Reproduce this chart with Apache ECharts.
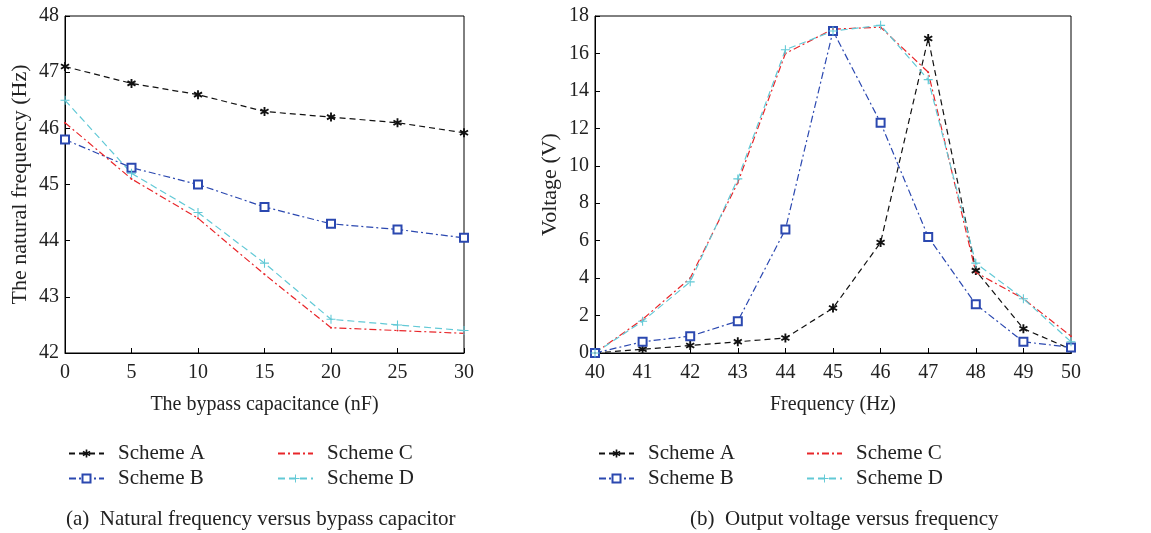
<!DOCTYPE html>
<html>
<head>
<meta charset="utf-8">
<script src="https://cdn.jsdelivr.net/npm/echarts@6/dist/echarts.min.js"></script>
<style>
  html, body { margin: 0; padding: 0; background: #fff; }
  #chart { width: 1151px; height: 533px; }
</style>
</head>
<body>
<div id="chart"></div>
<script>
// (a) natural frequency vs bypass capacitance
var capX = [0, 5, 10, 15, 20, 25, 30];
var freqA = [47.1, 46.8, 46.6, 46.3, 46.2, 46.1, 45.92];
var freqB = [45.8, 45.3, 45.0, 44.6, 44.3, 44.2, 44.05];
var freqC = [46.1, 45.1, 44.4, 43.4, 42.45, 42.4, 42.35];
var freqD = [46.5, 45.2, 44.5, 43.6, 42.6, 42.5, 42.4];

// (b) output voltage vs frequency
var hzX = [40, 41, 42, 43, 44, 45, 46, 47, 48, 49, 50];
var voltA = [0, 0.2, 0.4, 0.6, 0.8, 2.4, 5.9, 16.8, 4.4, 1.3, 0.2];
var voltB = [0, 0.6, 0.9, 1.7, 6.6, 17.2, 12.3, 6.2, 2.6, 0.6, 0.3];
var voltC = [0, 1.8, 4.0, 9.1, 16.0, 17.3, 17.4, 15.0, 4.3, 2.9, 0.9];
var voltD = [0, 1.7, 3.8, 9.3, 16.2, 17.2, 17.5, 14.6, 4.8, 2.9, 0.6];

var schemeNames = ['Scheme A', 'Scheme B', 'Scheme C', 'Scheme D'];

function pairs(xs, ys) {
    var out = [];
    for (var i = 0; i < xs.length; i++) {
        out.push([xs[i], ys[i]]);
    }
    return out;
}

var FONT = '"Liberation Serif", "DejaVu Serif", serif';
var asterisk = 'path://M-0.2,-1L0.2,-1L0.2,1L-0.2,1Z' +
    'M0.766,-0.673L0.966,-0.327L-0.766,0.673L-0.966,0.327Z' +
    'M0.966,0.327L0.766,0.673L-0.966,-0.327L-0.766,-0.673Z';
var plus = 'path://M-0.12,-1L0.12,-1L0.12,-0.12L1,-0.12L1,0.12L0.12,0.12L0.12,1L-0.12,1L-0.12,0.12L-1,0.12L-1,-0.12L-0.12,-0.12Z';

var styles = [
    { color: '#111111', dash: [6, 4], symbol: asterisk, size: 9 },
    { color: '#2b48b0', dash: [7, 3, 2, 3], symbol: 'emptyRect', size: 8 },
    { color: '#e8262a', dash: [7, 3, 2, 3], symbol: 'circle', size: 2 },
    { color: '#62c9d6', dash: [7, 4], symbol: plus, size: 9 }
];

function makeSeries(k, data, axisIdx) {
    var s = styles[k];
    return {
        name: schemeNames[k],
        type: 'line',
        xAxisIndex: axisIdx,
        yAxisIndex: axisIdx,
        data: data,
        symbol: s.symbol,
        symbolSize: s.size,
        animation: false,
        itemStyle: { color: s.color, borderColor: s.color, borderWidth: k === 1 ? 1.2 : 0 },
        lineStyle: { color: s.color, width: 1.2, type: s.dash }
    };
}

function valueAxis(gridIdx, min, max, step, name, gap, nameSize, labelMargin) {
    return {
        type: 'value',
        gridIndex: gridIdx,
        min: min,
        max: max,
        interval: step,
        name: name,
        nameLocation: 'middle',
        nameGap: gap,
        nameTextStyle: { fontFamily: FONT, fontSize: nameSize, color: '#222' },
        axisLine: { show: true, onZero: false, lineStyle: { color: '#000', width: 1 } },
        axisTick: { show: true, inside: true, length: 5, lineStyle: { color: '#000' } },
        axisLabel: { fontFamily: FONT, fontSize: 20, color: '#222', margin: labelMargin },
        splitLine: { show: false }
    };
}

function legendBox(left, names) {
    return {
        left: left,
        top: 438,
        orient: 'vertical',
        itemWidth: 35,
        itemHeight: 10,
        itemGap: 4,
        data: names,
        selectedMode: false,
        textStyle: { fontFamily: FONT, fontSize: 21, lineHeight: 21, color: '#222', padding: [0, 0, 0, 9] }
    };
}

// Scheme C has no visible marker in the key, just the dash-dot line
var legendC = [{ name: 'Scheme C', itemStyle: { opacity: 0 } }, 'Scheme D'];

var chart = echarts.init(document.getElementById('chart'));
var option = {
    backgroundColor: '#fff',
    animation: false,
    title: [
        { text: '(a)  Natural frequency versus bypass capacitor', left: 61, top: 504,
          textStyle: { fontFamily: FONT, fontSize: 21, fontWeight: 'normal', color: '#222' } },
        { text: '(b)  Output voltage versus frequency', left: 685, top: 504,
          textStyle: { fontFamily: FONT, fontSize: 21, fontWeight: 'normal', color: '#222' } }
    ],
    legend: [
        legendBox(63, ['Scheme A', 'Scheme B']),
        legendBox(272, legendC),
        legendBox(593, ['Scheme A', 'Scheme B']),
        legendBox(801, legendC)
    ],
    grid: [
        { left: 65, right: 687, top: 16, bottom: 180, show: true, borderColor: '#000', borderWidth: 1 },
        { left: 595, right: 80, top: 16, bottom: 180, show: true, borderColor: '#000', borderWidth: 1 }
    ],
    xAxis: [
        valueAxis(0, 0, 30, 5, 'The bypass capacitance (nF)', 42, 20, 10),
        valueAxis(1, 40, 50, 1, 'Frequency (Hz)', 42, 20, 10)
    ],
    yAxis: [
        valueAxis(0, 42, 48, 1, 'The natural frequency (Hz)', 34, 22, 6),
        valueAxis(1, 0, 18, 2, 'Voltage (V)', 34, 22, 6)
    ],
    series: [
        makeSeries(0, pairs(capX, freqA), 0),
        makeSeries(1, pairs(capX, freqB), 0),
        makeSeries(2, pairs(capX, freqC), 0),
        makeSeries(3, pairs(capX, freqD), 0),
        makeSeries(0, pairs(hzX, voltA), 1),
        makeSeries(1, pairs(hzX, voltB), 1),
        makeSeries(2, pairs(hzX, voltC), 1),
        makeSeries(3, pairs(hzX, voltD), 1)
    ]
};
chart.setOption(option);
</script>
</body>
</html>
